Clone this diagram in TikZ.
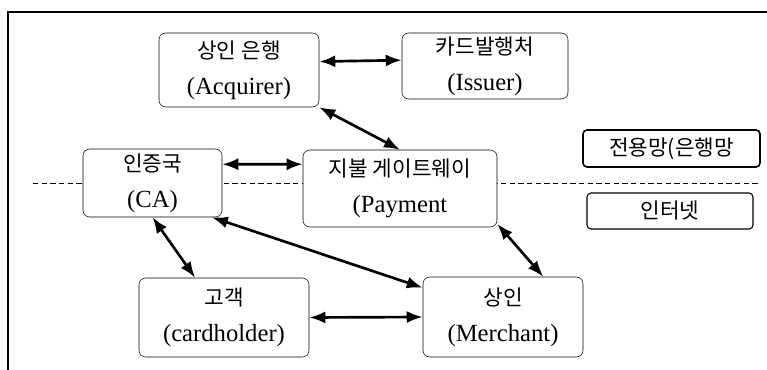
\documentclass[tikz,border=0pt]{standalone}
\usepackage{fontspec}
\setmainfont{Liberation Serif}
\newfontfamily\kr{Noto Sans CJK KR}
\usetikzlibrary{arrows.meta}
\newcommand{\kor}[1]{{\kr\fontsize{16}{27}\selectfont #1}}

\begin{document}
\begin{tikzpicture}[x=0.75pt,y=-0.75pt,
  party/.style={draw,rounded corners=5pt,fill=white,align=center,inner sep=0pt,
    font=\fontsize{18.5}{27}\selectfont},
  zone/.style={draw,rounded corners=3pt,fill=white,inner sep=0pt,
    font=\kr\fontsize{16}{18}\selectfont},
  link/.style={{Latex[length=12pt,width=9pt]}-{Latex[length=12pt,width=9pt]},line width=2pt}]
  \useasboundingbox (0,0) rectangle (767,370);

  % frame and border between networks
  \draw[line width=0.8pt] (8,370) -- (8,12) -- (767,12);
  \draw[dash pattern=on 4pt off 2.5pt] (33,183) -- (760,183);

  \node[party,minimum width=120pt,minimum height=55.5pt] (acq) at (239,70) {\kor{상인 은행}\\(Acquirer)};
  \node[party,minimum width=124.5pt,minimum height=49.5pt] (iss) at (485,66) {\kor{카드발행처}\\(Issuer)};
  \node[party,minimum width=104.25pt,minimum height=51pt] (ca) at (152.5,183) {\kor{인증국}\\(CA)};
  \node[party,minimum width=145.5pt,minimum height=57.75pt] (pay) at (400,188.5) {\kor{지불 게이트웨이}\\(Payment};
  \node[party,minimum width=127.5pt,minimum height=59.25pt] (card) at (224,317.5) {\kor{고객}\\(cardholder)};
  \node[party,minimum width=120pt,minimum height=60pt] (mer) at (503,317) {\kor{상인}\\(Merchant)};

  \node[zone,line width=1.2pt,minimum width=132.75pt,minimum height=27.75pt] (bank) at (671.5,148.5) {전용망(은행망};
  \node[zone,line width=0.8pt,minimum width=124.5pt,minimum height=27pt] (net) at (670,211) {인터넷};

  \draw[link] (acq.6) -- (iss.176.5);
  \draw[link] (acq.south east) -- (pay.north);
  \draw[link] (ca.15) -- (pay.166);
  \draw[link] (ca.south) -- (card.126);
  \draw[link] (ca.-30) -- (mer.160);
  \draw[link] (card.east) -- (mer.west);
  \draw[link] (pay.-20) -- (mer.45);
\end{tikzpicture}
\end{document}
